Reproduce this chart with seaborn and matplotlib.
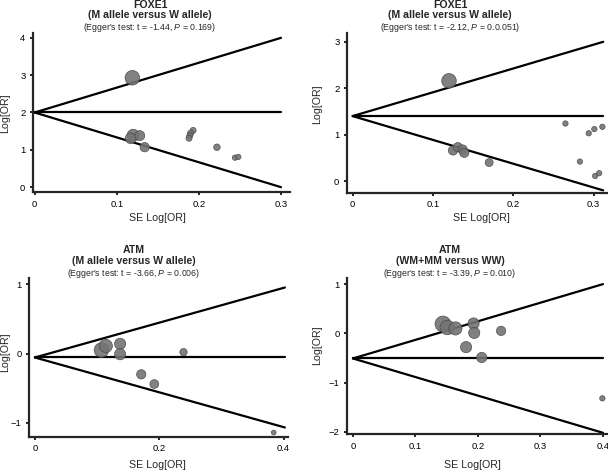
import numpy as np
import pandas as pd
import seaborn as sns
import matplotlib.pyplot as plt
from matplotlib.ticker import FuncFormatter

# --- data (SE of log OR, log OR, study weight) ---
foxe1_a_se = [0.119, 0.120, 0.117, 0.128, 0.134, 0.193, 0.190, 0.189, 0.188, 0.222, 0.244, 0.248]
foxe1_a_lor = [2.93, 1.39, 1.31, 1.38, 1.07, 1.52, 1.45, 1.38, 1.31, 1.07, 0.79, 0.81]
foxe1_a_w = [11, 7.5, 6, 5.2, 4.5, 1.9, 1.9, 1.9, 1.9, 2.2, 1.5, 1.5]

foxe1_b_se = [0.120, 0.125, 0.131, 0.137, 0.139, 0.170, 0.265, 0.283, 0.294, 0.301, 0.311, 0.302, 0.307]
foxe1_b_lor = [2.16, 0.66, 0.73, 0.68, 0.61, 0.40, 1.24, 0.42, 1.03, 1.12, 1.17, 0.11, 0.17]
foxe1_b_w = [11, 4.5, 4.5, 4.5, 4.5, 3.3, 1.5, 1.5, 1.5, 1.5, 1.5, 1.5, 1.5]

atm_a_se = [0.107, 0.114, 0.137, 0.137, 0.171, 0.192, 0.239, 0.384]
atm_a_lor = [0.05, 0.11, 0.14, -0.01, -0.30, -0.44, 0.02, -1.14]
atm_a_w = [11, 9, 6.5, 6.5, 4.5, 4, 2.8, 1.2]

atm_b_se = [0.144, 0.151, 0.164, 0.193, 0.194, 0.181, 0.206, 0.237, 0.399]
atm_b_lor = [0.19, 0.12, 0.10, 0.20, 0.01, -0.28, -0.49, 0.05, -1.32]
atm_b_w = [13, 11, 9, 6.5, 6.5, 6.5, 5.5, 4.5, 1.5]

# funnel: centre value, half-width at the end, end of the lines (SE)
funnels = [(2.0, 2.0, 0.300), (1.40, 1.60, 0.312), (-0.057, 1.01, 0.402), (-0.51, 1.51, 0.400)]

genes = ["FOXE1", "FOXE1", "ATM", "ATM"]
models = ["(M allele versus W allele)", "(M allele versus W allele)",
          "(M allele versus W allele)", "(WM+MM versus WW)"]
egger_t = ["-1.44", "-2.12", "-3.66", "-3.39"]
egger_p = ["0.169", "0.0.051", "0.006", "0.010"]

x_ticks = [[0, 0.1, 0.2, 0.3], [0, 0.1, 0.2, 0.3], [0, 0.2, 0.4], [0, 0.1, 0.2, 0.3, 0.4]]
y_ticks = [[0, 1, 2, 3, 4], [0, 1, 2, 3], [-1, 0, 1], [-2, -1, 0, 1]]
x_lims = [(-0.002, 0.311), (-0.007, 0.318), (-0.009, 0.407), (-0.009, 0.408)]
y_lims = [(-0.13, 4.13), (-0.25, 3.19), (-1.20, 1.09), (-2.05, 1.13)]

sns.set_style("ticks")
plt.rcParams["font.family"] = ["Liberation Sans", "DejaVu Sans"]
plt.rcParams["mathtext.fontset"] = "custom"
plt.rcParams["mathtext.it"] = "Liberation Sans:italic"
plt.rcParams["mathtext.rm"] = "Liberation Sans"

W, H = 608, 470
fig = plt.figure(figsize=(W / 100, H / 100), dpi=100)

# axes rectangles in pixels: left, top, right, bottom
rects = [(33, 33, 290, 192), (347, 33, 608, 192.7), (29.3, 278, 288, 436.7), (347.3, 277.7, 608, 434.3)]
title_x = [150, 450, 134, 450]
title_y = [(4.5, 15.5, 27), (4.5, 15.5, 27), (250, 261.5, 273), (250, 261.5, 273)]
ylab_pos = [(5, 113), (317, 104), (5, 352), (317, 345)]
xlab_pos = [(157, 218), (481, 218), (157, 465), (472, 465)]

panels = [(foxe1_a_se, foxe1_a_lor, foxe1_a_w), (foxe1_b_se, foxe1_b_lor, foxe1_b_w),
          (atm_a_se, atm_a_lor, atm_a_w), (atm_b_se, atm_b_lor, atm_b_w)]


def fmt(v, pos):
    return "{:g}".format(v).replace("-", "\u2212")


for i, (se, lor, w) in enumerate(panels):
    l, t, r, b = rects[i]
    ax = fig.add_axes([l / W, 1 - b / H, (r - l) / W, (b - t) / H])
    df = pd.DataFrame({"se": se, "lor": lor, "w": w})

    centre, half, end = funnels[i]
    xs = np.array([0, end])
    ax.plot(xs, [centre, centre], color="black", lw=1.6, zorder=1)
    ax.plot(xs, centre + half * xs / end, color="black", lw=1.6, zorder=1)
    ax.plot(xs, centre - half * xs / end, color="black", lw=1.6, zorder=1)

    sns.scatterplot(data=df, x="se", y="lor", size="w", sizes=(0, 150), size_norm=(0, 15),
                    color="#737373", edgecolor="#454545", linewidth=0.5, alpha=0.9,
                    legend=False, ax=ax, zorder=3, clip_on=False)

    ax.set_xlim(*x_lims[i])
    ax.set_ylim(*y_lims[i])
    ax.set_xticks(x_ticks[i])
    ax.set_yticks(y_ticks[i])
    ax.xaxis.set_major_formatter(FuncFormatter(fmt))
    ax.yaxis.set_major_formatter(FuncFormatter(fmt))
    ax.tick_params(labelsize=6.8, length=2.5, width=1.2, pad=3, colors="black")
    ax.set_xlabel("")
    ax.set_ylabel("")
    sns.despine(ax=ax)
    for s in ["left", "bottom"]:
        ax.spines[s].set_linewidth(1.6)

    ty = title_y[i]
    fig.text(title_x[i] / W, 1 - ty[0] / H, genes[i], ha="center", va="center",
             fontsize=7.6, fontweight="bold")
    fig.text(title_x[i] / W, 1 - ty[1] / H, models[i], ha="center", va="center",
             fontsize=7.6, fontweight="bold")
    fig.text(title_x[i] / W, 1 - ty[2] / H,
             "(Egger's test: t = %s, $\\it{P}$ = %s)" % (egger_t[i], egger_p[i]),
             ha="center", va="center", fontsize=6.3)
    fig.text(ylab_pos[i][0] / W, 1 - ylab_pos[i][1] / H, "Log[OR]", rotation=90,
             ha="center", va="center", fontsize=7.7)
    fig.text(xlab_pos[i][0] / W, 1 - xlab_pos[i][1] / H, "SE Log[OR]",
             ha="center", va="center", fontsize=7.7)

fig.savefig("out.png", dpi=100)
